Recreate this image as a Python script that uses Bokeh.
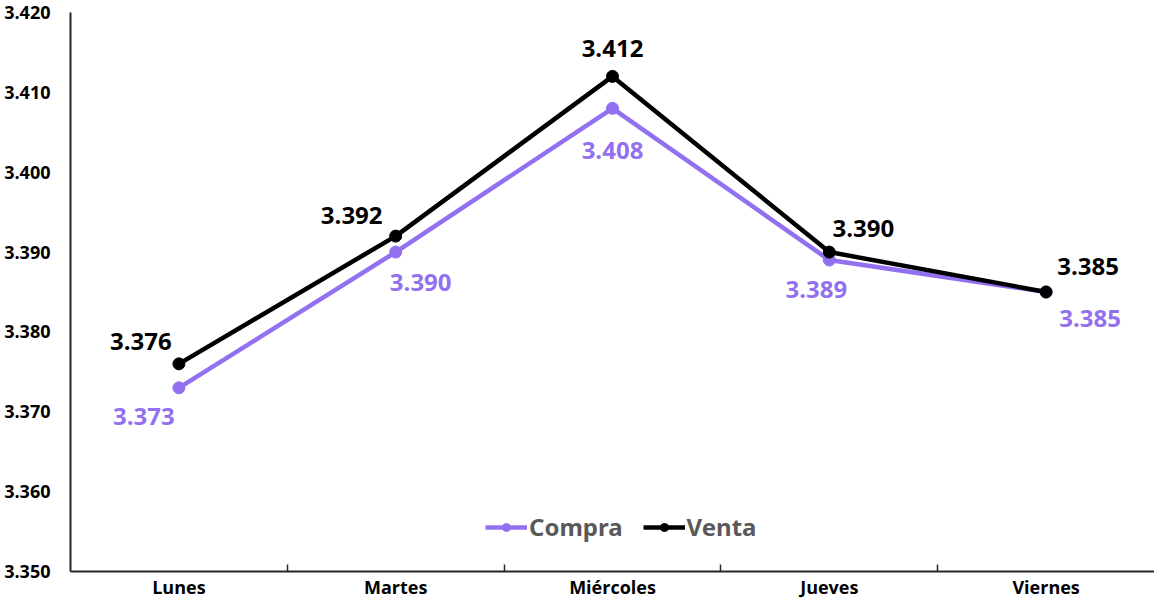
from bokeh.plotting import figure
from bokeh.models import (ColumnDataSource, Range1d, FixedTicker, NumeralTickFormatter,
                          Legend, LegendItem)
from bokeh.core.properties import value
from bokeh.embed import file_html
from bokeh.resources import INLINE

# ---- data ----
days = ["Lunes", "Martes", "Miércoles", "Jueves", "Viernes"]
compra = [3.373, 3.390, 3.408, 3.389, 3.385]
venta = [3.376, 3.392, 3.412, 3.390, 3.385]
y_ticks = [3.350, 3.360, 3.370, 3.380, 3.390, 3.400, 3.410, 3.420]

# ---- label placement (screen px) ----
venta_dx = [-38, -44, 0, 34, 42]
venta_dy = [-22, -21, -28, -24, -26]
compra_dx = [-35, 25, 0, -13, 44]
compra_dy = [29, 30, 42, 29, 26]

PURPLE = "#9370F0"
BLACK = "#000000"
AXIS = "#262626"

xs = list(range(1, len(days) + 1))

src_c = ColumnDataSource(dict(x=xs, y=compra, t=[f"{v:.3f}" for v in compra],
                              dx=compra_dx, dy=compra_dy))
src_v = ColumnDataSource(dict(x=xs, y=venta, t=[f"{v:.3f}" for v in venta],
                              dx=venta_dx, dy=venta_dy))

p = figure(width=1154, height=601, output_backend="svg", toolbar_location=None,
           x_range=Range1d(0.5, len(days) + 0.5), y_range=Range1d(y_ticks[0], y_ticks[-1]),
           min_border_left=70, min_border_right=0, min_border_top=12, min_border_bottom=20)
p.outline_line_color = None
p.xgrid.visible = False
p.ygrid.visible = False
p.background_fill_color = "white"
p.border_fill_color = "white"

lc = p.line("x", "y", source=src_c, line_color=PURPLE, line_width=4.5)
cc = p.scatter("x", "y", source=src_c, size=12, fill_color=PURPLE, line_color=PURPLE)
lv = p.line("x", "y", source=src_v, line_color=BLACK, line_width=4.5)
cv = p.scatter("x", "y", source=src_v, size=12, fill_color=BLACK, line_color=BLACK)

p.text("x", "y", text="t", source=src_v, x_offset="dx", y_offset="dy",
       text_font=value("Open Sans"), text_font_style="bold", text_font_size="24px",
       text_align="center", text_baseline="middle", text_color=BLACK)
p.text("x", "y", text="t", source=src_c, x_offset="dx", y_offset="dy",
       text_font=value("Open Sans"), text_font_style="bold", text_font_size="24px",
       text_align="center", text_baseline="middle", text_color=PURPLE)

# y axis
ya = p.yaxis[0]
ya.ticker = FixedTicker(ticks=y_ticks)
ya.formatter = NumeralTickFormatter(format="0.000")
ya.major_tick_line_color = None
ya.minor_tick_line_color = None
ya.axis_line_color = AXIS
ya.axis_line_width = 2
ya.major_label_standoff = 14
ya.major_label_text_font = "Open Sans"
ya.major_label_text_font_style = "bold"
ya.major_label_text_font_size = "18px"
ya.major_label_text_color = BLACK

# x axis
xa = p.xaxis[0]
xa.ticker = FixedTicker(ticks=xs, minor_ticks=[i + 0.5 for i in xs[:-1]])
xa.major_label_overrides = {i: d for i, d in zip(xs, days)}
xa.major_tick_line_color = None
xa.major_tick_in = 0
xa.major_tick_out = 0
xa.minor_tick_line_color = AXIS
xa.minor_tick_line_width = 1.5
xa.minor_tick_in = 7
xa.minor_tick_out = 0
xa.axis_line_color = AXIS
xa.axis_line_width = 2
xa.major_label_standoff = 3
xa.major_label_text_font = "Open Sans"
xa.major_label_text_font_style = "bold"
xa.major_label_text_font_size = "18px"
xa.major_label_text_color = BLACK

legend = Legend(items=[LegendItem(label="Compra", renderers=[lc, cc]),
                       LegendItem(label="Venta", renderers=[lv, cv])],
                orientation="horizontal", location=(415, 28),
                border_line_color=None, background_fill_alpha=0,
                label_text_font="Noto Sans", label_text_font_style="bold",
                label_text_font_size="24px", label_text_color="#595959",
                glyph_width=42, label_standoff=2, spacing=20, padding=0, margin=0)
p.add_layout(legend)

open("out.html", "w").write(file_html(p, INLINE))
